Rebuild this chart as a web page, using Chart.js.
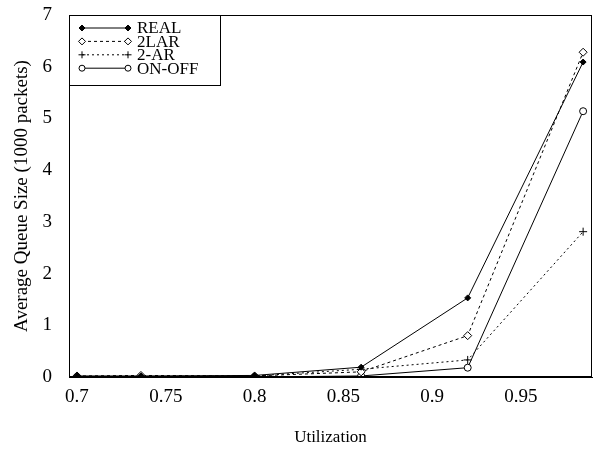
<!DOCTYPE html>
<html>
<head>
<script src="https://cdn.jsdelivr.net/npm/chart.js"></script>
<style>
body{margin:0;background:#fff;}
#wrap{width:597px;height:452px;}
</style>
</head>
<body>
<div id="wrap"><canvas id="chart" width="597" height="452"></canvas></div>
<script>
// ================= DATA =================
const utilization = [0.7, 0.736, 0.8, 0.86, 0.92, 0.985];
const real  = [0.02, 0.02, 0.03, 0.19, 1.53, 6.09];
const lar2  = [0.02, 0.03, 0.02, 0.10, 0.80, 6.28];
const ar2   = [0.01, 0.01, 0.02, 0.15, 0.33, 2.81];
const onoff = [0.00, 0.00, 0.00, 0.02, 0.18, 5.14];
const xTicks = [0.7, 0.75, 0.8, 0.85, 0.9, 0.95];
const yTicks = [0, 1, 2, 3, 4, 5, 6, 7];

const FONT = "'Liberation Serif', 'DejaVu Serif', serif";

function pts(ys){ return utilization.map((x,i)=>({x:x, y:ys[i]})); }

// ================= LEGEND + FRAME =================
const legendSpec = [
  {label:'REAL',   dash:[],    style:'rectRot', r:3, fill:'#000'},
  {label:'2LAR',   dash:[3,3], style:'rectRot', r:3.5, fill:'#fff'},
  {label:'2-AR',   dash:[2,3], style:'cross',   r:3.5, fill:'#fff'},
  {label:'ON-OFF', dash:[],    style:'circle',  r:3, fill:'#fff'}
];

const framePlugin = {
  id:'frame',
  afterDraw(chart){
    const c = chart.ctx, a = chart.chartArea;
    c.save();
    c.strokeStyle = '#000';
    c.lineWidth = 1;
    c.strokeRect(a.left+0.5, a.top+0.5, a.right-a.left-1, a.bottom-a.top-1);

    // legend box
    const bx = a.left, by = a.top, bw = 151, bh = 70;
    c.strokeRect(bx+0.5, by+0.5, bw, bh);
    c.font = "17px " + FONT;
    c.fillStyle = '#000';
    c.textBaseline = 'middle';
    legendSpec.forEach((s,i)=>{
      const y = by + 13 + i*13.4;
      const x0 = bx + 13, x1 = bx + 59;
      c.setLineDash(s.dash);
      c.beginPath(); c.moveTo(x0,y); c.lineTo(x1,y); c.stroke();
      c.setLineDash([]);
      [x0,x1].forEach(px=>{
        c.fillStyle = s.fill;
        Chart.helpers.drawPoint(c, {pointStyle:s.style, radius:s.r, borderWidth:1}, px, y);
      });
      c.fillStyle = '#000';
      c.fillText(s.label, bx + 68, y+1);
    });
    c.restore();
  }
};

function ds(label, data, dash, style, r, fill){
  return {
    label:label, data:pts(data),
    borderColor:'#000', borderWidth:1, borderDash:dash,
    pointStyle:style, pointRadius:r, pointBackgroundColor:fill,
    pointBorderColor:'#000', pointBorderWidth:1, tension:0, fill:false
  };
}

new Chart(document.getElementById('chart'), {
  type:'line',
  data:{
    datasets:[
      ds('REAL',   real,  [],    'rectRot', 3, '#000'),
      ds('2LAR',   lar2,  [3,3], 'rectRot', 4, '#fff'),
      ds('2-AR',   ar2,   [2,3], 'cross',   4, '#fff'),
      ds('ON-OFF', onoff, [],    'circle',  3.5, '#fff')
    ]
  },
  options:{
    responsive:false,
    animation:false,
    layout:{padding:{top:15, right:5, left:0, bottom:0}},
    plugins:{legend:{display:false}, tooltip:{enabled:false}},
    scales:{
      x:{
        type:'linear', min:0.6955, max:0.99,
        afterBuildTicks(s){ s.ticks = xTicks.map(v=>({value:v})); },
        afterFit(s){ s.height = 75; s.paddingLeft = 0; s.paddingRight = 0; },
        grid:{display:false, drawTicks:false},
        border:{display:true, color:'#000', width:1},
        ticks:{color:'#000', padding:9, font:{family:FONT, size:19},
               callback:v=>String(v)},
        title:{display:true, text:'Utilization', color:'#000',
               font:{family:FONT, size:17}, padding:{top:14}}
      },
      y:{
        min:0, max:7,
        afterBuildTicks(s){ s.ticks = yTicks.map(v=>({value:v})); },
        afterFit(s){ s.width = 69; s.paddingTop = 0; s.paddingBottom = 0; },
        grid:{display:false, drawTicks:false},
        border:{display:true, color:'#000', width:1},
        ticks:{color:'#000', padding:17, font:{family:FONT, size:19}},
        title:{display:true, text:'Average Queue Size (1000 packets)', color:'#000',
               font:{family:FONT, size:19}, padding:{top:11, bottom:0}}
      }
    }
  },
  plugins:[framePlugin]
});
</script>
</body>
</html>
